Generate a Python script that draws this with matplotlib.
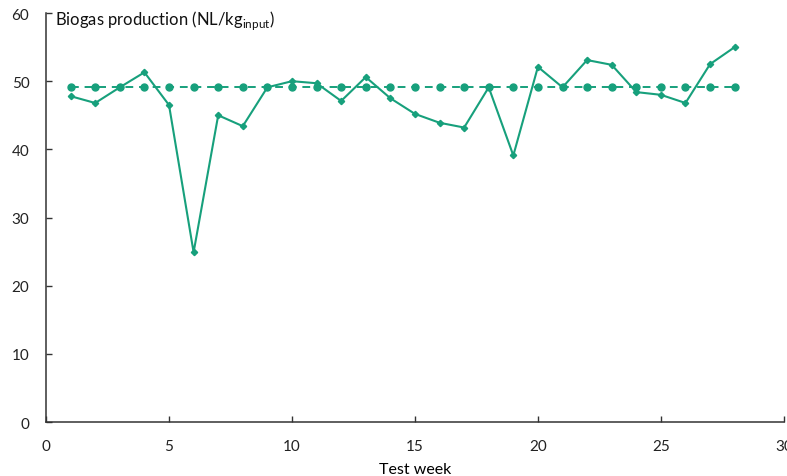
import matplotlib.pyplot as plt

plt.rcParams.update({
    "font.family": ["Lato", "DejaVu Sans"],
    "font.size": 11,
    "axes.linewidth": 1.1,
})

# weekly biogas production
test_week = list(range(1, 29))
biogas = [47.8, 46.8, 49.1, 51.3, 46.5, 24.9, 45.0, 43.4, 49.1, 50.0,
          49.7, 47.1, 50.6, 47.5, 45.2, 43.9, 43.2, 49.1, 39.1, 52.1,
          49.1, 53.1, 52.4, 48.4, 48.0, 46.8, 52.5, 55.0]
# reference level
reference = [49.1] * 28

green = '#17a07c'

fig = plt.figure(figsize=(7.87, 4.77), dpi=100)
ax = fig.add_axes([0.0585, 0.1132, 0.9375, 0.8574])

ax.plot(test_week, reference, color=green, linestyle=(0, (4, 3)), linewidth=1.4,
        marker='o', markersize=5)
ax.plot(test_week, biogas, color=green, linewidth=1.5,
        marker='D', markersize=3.2)

ax.set_xlim(0, 30)
ax.set_ylim(0, 60)
ax.set_xticks(range(0, 31, 5))
ax.set_yticks(range(0, 61, 10))
ax.tick_params(direction='in', length=4, width=1, colors='#333333', labelcolor='#222222')
ax.tick_params(axis='x', pad=12)
ax.tick_params(axis='y', pad=12)
for s in ['top', 'right']:
    ax.spines[s].set_visible(False)
for s in ['left', 'bottom']:
    ax.spines[s].set_color('#333333')

ax.set_xlabel('Test week', fontsize=11.5, labelpad=7)
ax.text(0.012, 0.985, r'Biogas production (NL/kg$_{\mathregular{input}}$)',
        transform=ax.transAxes, fontsize=12, va='center', ha='left', color='#111111')

fig.savefig('out.png', dpi=100)
